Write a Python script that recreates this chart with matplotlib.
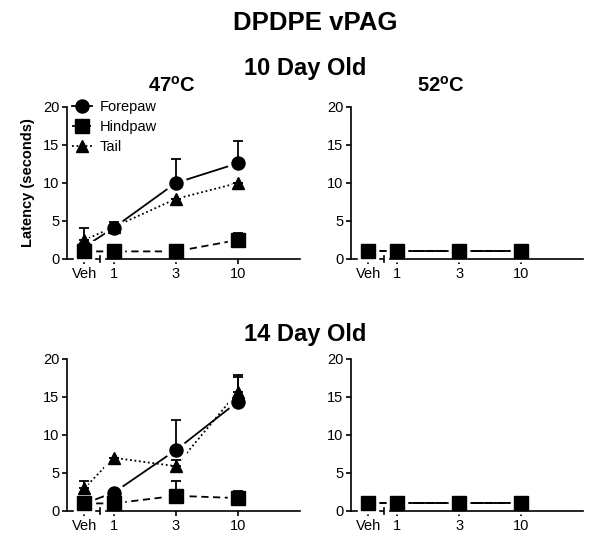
import numpy as np
import matplotlib.pyplot as plt
from matplotlib.lines import Line2D

plt.rcParams['font.family'] = ['Liberation Sans', 'DejaVu Sans']

W, H = 601, 550

doses = ['Veh', '1', '3', '10']
dose_x = [-0.47, 0, 1, 2]   # Veh sits left of the axis break

# 10 day old, 47C
fp_10_47 = [1.6, 4.1, 10.0, 12.6]
fp_10_47_sem = [0.0, 0.8, 3.1, 2.9]
hp_10_47 = [1.0, 1.0, 1.0, 2.5]
hp_10_47_sem = [0.0, 0.0, 0.0, 0.9]
tl_10_47 = [2.5, 4.2, 7.9, 10.0]
tl_10_47_sem = [1.6, 0.0, 0.0, 0.0]

# 10 day old, 52C (all at floor)
fp_10_52 = [1.0, 1.0, 1.0, 1.0]
hp_10_52 = [1.0, 1.0, 1.0, 1.0]
tl_10_52 = [1.0, 1.0, 1.0, 1.0]
zero_sem = [0.0, 0.0, 0.0, 0.0]

# 14 day old, 47C
fp_14_47 = [1.0, 2.4, 8.0, 14.4]
fp_14_47_sem = [0.0, 0.0, 4.0, 3.2]
hp_14_47 = [1.0, 1.0, 2.0, 1.7]
hp_14_47_sem = [0.0, 0.0, 1.9, 0.9]
tl_14_47 = [3.0, 7.0, 5.9, 15.7]
tl_14_47_sem = [1.0, 0.0, 0.8, 2.2]

# 14 day old, 52C
fp_14_52 = [1.0, 1.0, 1.0, 1.0]
hp_14_52 = [1.0, 1.0, 1.0, 1.0]
tl_14_52 = [1.0, 1.0, 1.0, 1.0]

styles = {
    'Forepaw': dict(marker='o', ls='-', ms=9.4),
    'Hindpaw': dict(marker='s', ls=(0, (4, 2.5)), ms=9.6),
    'Tail': dict(marker='^', ls=(0, (1, 1.5)), ms=9.0),
}
LW = 1.3


def px_axes(fig, left, top, right, bottom):
    return fig.add_axes([left / W, 1 - bottom / H, (right - left) / W, (bottom - top) / H])


def draw_series(ax, y, sem, name):
    st = styles[name]
    x = dose_x
    ax.plot(x, y, color='k', lw=LW, ls=st['ls'], zorder=1, clip_on=False)
    # white halo so the connecting lines stop short of the symbols
    ax.plot(x, y, ls='none', marker=st['marker'], ms=st['ms'] + 5,
            mfc='white', mec='white', zorder=2, clip_on=False)
    err = np.array(sem)
    if err.any():
        ax.errorbar(x, y, yerr=[np.zeros_like(err), err], fmt='none', ecolor='k',
                    elinewidth=LW, capsize=3.3, capthick=LW, zorder=3)
    ax.plot(x, y, ls='none', marker=st['marker'], ms=st['ms'],
            mfc='k', mec='k', zorder=4, clip_on=False)


def setup_axes(ax):
    ax.set_xlim(-0.75, 3.0)
    ax.set_ylim(0, 20)
    ax.set_yticks([0, 5, 10, 15, 20])
    ax.set_xticks(dose_x)
    ax.set_xticklabels(doses)
    for s in ['top', 'right']:
        ax.spines[s].set_visible(False)
    for s in ['left', 'bottom']:
        ax.spines[s].set_linewidth(1.2)
    # broken x axis: vehicle part + dose part
    ax.spines['bottom'].set_bounds(-0.12, 3.0)
    ax.plot([-0.75, -0.22], [0, 0], color='k', lw=1.2, clip_on=False,
            solid_capstyle='butt', zorder=0)
    ax.plot([-0.22, -0.22], [-0.45, 0.45], color='k', lw=1.2, clip_on=False, zorder=0)
    ax.tick_params(direction='out', length=3.6, width=1.2, labelsize=10.5, pad=2)
    ax.patch.set_alpha(0)


def draw_panel(ax, fp, fp_sem, hp, hp_sem, tl, tl_sem):
    setup_axes(ax)
    draw_series(ax, fp, fp_sem, 'Forepaw')
    draw_series(ax, tl, tl_sem, 'Tail')
    draw_series(ax, hp, hp_sem, 'Hindpaw')


fig = plt.figure(figsize=(W / 100, H / 100), dpi=100)

ax1 = px_axes(fig, 67, 107, 300, 259)
draw_panel(ax1, fp_10_47, fp_10_47_sem, hp_10_47, hp_10_47_sem, tl_10_47, tl_10_47_sem)
ax1.set_ylabel('Latency (seconds)', fontsize=10.5, fontweight='bold', labelpad=6)

ax2 = px_axes(fig, 351, 107, 583, 259)
draw_panel(ax2, fp_10_52, zero_sem, hp_10_52, zero_sem, tl_10_52, zero_sem)

ax3 = px_axes(fig, 67, 359, 300, 511)
draw_panel(ax3, fp_14_47, fp_14_47_sem, hp_14_47, hp_14_47_sem, tl_14_47, tl_14_47_sem)

ax4 = px_axes(fig, 351, 359, 583, 511)
draw_panel(ax4, fp_14_52, zero_sem, hp_14_52, zero_sem, tl_14_52, zero_sem)

handles = [Line2D([], [], color='k', lw=LW, ls=styles[n]['ls'], marker=styles[n]['marker'],
                  ms=styles[n]['ms'], mfc='k', mec='k') for n in ['Forepaw', 'Hindpaw', 'Tail']]
ax1.legend(handles, ['Forepaw', 'Hindpaw', 'Tail'], loc='upper left',
           bbox_to_anchor=(0.02, 1.045), frameon=False, fontsize=10.5,
           handlelength=1.4, handletextpad=0.5, labelspacing=0.4,
           borderpad=0, borderaxespad=0, markerscale=1.0)


def ftext(x, y, s, size):
    fig.text(x / W, 1 - y / H, s, ha='center', va='center', fontsize=size, fontweight='bold')


ftext(315, 23, 'DPDPE vPAG', 18.5)
ftext(305, 68, '10 Day Old', 17)
ftext(305, 334, '14 Day Old', 17)
ftext(172, 86, r'47$^\mathregular{o}$C', 14.5)
ftext(441, 86, r'52$^\mathregular{o}$C', 14.5)

fig.savefig('out.png', dpi=100)
